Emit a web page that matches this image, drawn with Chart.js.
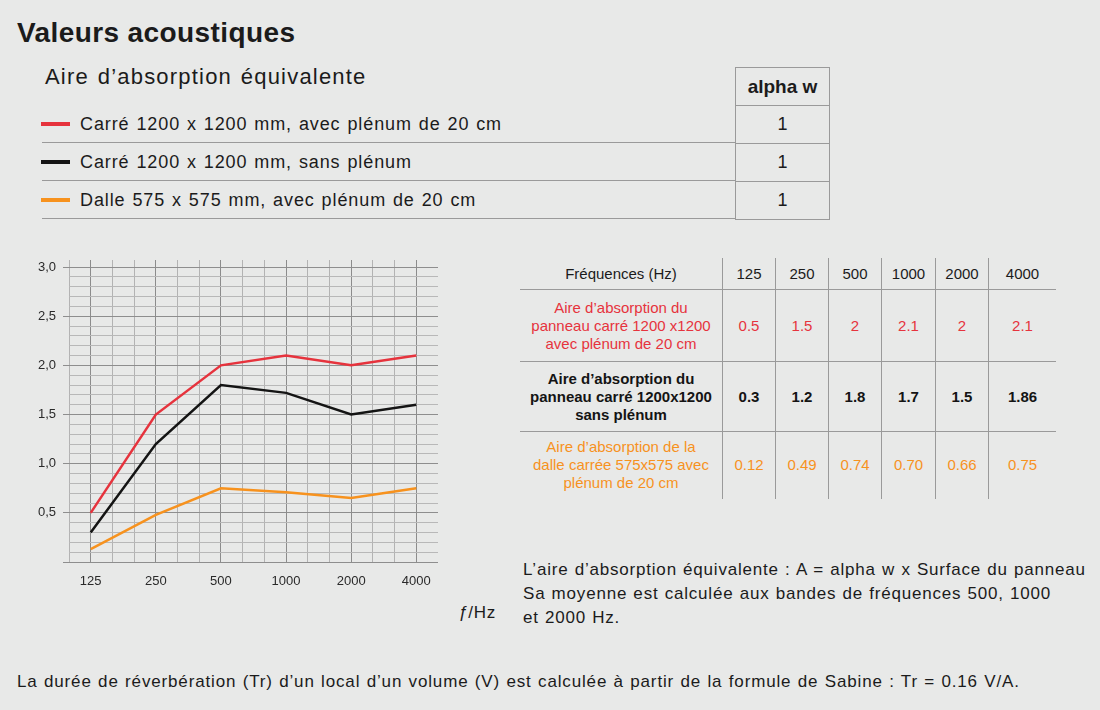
<!DOCTYPE html>
<html>
<head>
<meta charset="utf-8">
<script src="https://cdn.jsdelivr.net/npm/chart.js@4"></script>
<style>
  body { margin: 0; background: #e8e9e8; }
  #page {
    position: relative; width: 1100px; height: 710px; overflow: hidden;
    background: #e8e9e8; color: #1b1b1b;
    font-family: "Liberation Sans", Arial, sans-serif;
  }
  .abs { position: absolute; white-space: nowrap; }
  h1 { position: absolute; left: 17px; top: 19px; margin: 0; font-size: 28px; line-height: 28px; font-weight: bold; letter-spacing: 0.4px; }
  .sub { left: 45px; top: 66px; font-size: 22px; line-height: 22px; letter-spacing: 1.2px; word-spacing: 1.5px; }
  .lrow { position: absolute; left: 42px; width: 693px; height: 38px; line-height: 38px; font-size: 18px; }
  .lrow .sep { position: absolute; left: 0; right: 0; bottom: 0; border-bottom: 1px solid #9a9a9a; }
  .lrow .mk { position: absolute; left: -1px; top: 17px; width: 29px; height: 4px; }
  .lrow .tx { position: absolute; left: 38px; top: 0; letter-spacing: 0.9px; word-spacing: 1px; }
  #alpha { position: absolute; left: 735px; top: 67px; border-collapse: collapse; }
  #alpha td { border: 1px solid #9a9a9a; width: 93px; height: 37px; padding: 0; text-align: center; font-size: 18px; }
  #alpha td.h { font-weight: bold; font-size: 19px; }
  #freqTable { position: absolute; left: 520px; top: 258px; border-collapse: collapse; }
  #freqTable td { padding: 0; text-align: center; font-size: 15px; line-height: 18px;
    border-right: 1px solid #9a9a9a; border-bottom: 1px solid #9a9a9a; }
  #freqTable td:last-child { border-right: none; }
  #freqTable tr:last-child td { border-bottom: none; }
  #chartBox { position: absolute; left: 20px; top: 255px; width: 420px; height: 345px; }
  .note { left: 523px; top: 558px; font-size: 17px; line-height: 24px; letter-spacing: 0.8px; word-spacing: 0.7px; }
  .foot { left: 17px; top: 672px; font-size: 17px; line-height: 20px; letter-spacing: 0.85px; word-spacing: 0.8px; }
  .fhz { left: 458px; top: 603px; font-size: 17px; line-height: 20px; letter-spacing: 0.8px; }
</style>
</head>
<body>
<div id="page">
  <h1>Valeurs acoustiques</h1>
  <div class="abs sub">Aire d’absorption équivalente</div>
  <div id="legendRows"></div>
  <table id="alpha"></table>
  <table id="freqTable"></table>
  <div id="chartBox"><canvas id="absChart"></canvas></div>
  <div class="abs fhz"><i>ƒ</i>/Hz</div>
  <div class="abs note">L’aire d’absorption équivalente : A = alpha w x Surface du panneau<br>Sa moyenne est calculée aux bandes de fréquences 500, 1000<br>et 2000 Hz.</div>
  <div class="abs foot">La durée de réverbération (Tr) d’un local d’un volume (V) est calculée à partir de la formule de Sabine : Tr = 0.16 V/A.</div>
</div>
<script>
// données
const frequences = ['125', '250', '500', '1000', '2000', '4000'];
const seriesNames = [
    'Carré 1200 x 1200 mm, avec plénum de 20 cm',
    'Carré 1200 x 1200 mm, sans plénum',
    'Dalle 575 x 575 mm, avec plénum de 20 cm'
];
const seriesColors = ['#e6333d', '#141414', '#f7921e'];
const alphaW = ['1', '1', '1'];

// valeurs
const carreAvecPlenum = [0.5, 1.5, 2.0, 2.1, 2.0, 2.1];
const carreSansPlenum = [0.3, 1.2, 1.8, 1.72, 1.5, 1.6];
const dalleAvecPlenum = [0.13, 0.48, 0.75, 0.71, 0.65, 0.75];

// valeurs du tableau
const rowTitles = [
    'Aire d’absorption du<br>panneau carré 1200 x1200<br>avec plénum de 20 cm',
    'Aire d’absorption du<br>panneau carré 1200x1200<br>sans plénum',
    'Aire d’absorption de la<br>dalle carrée 575x575 avec<br>plénum de 20 cm'
];
const tableCarreAvec = ['0.5', '1.5', '2', '2.1', '2', '2.1'];
const tableCarreSans = ['0.3', '1.2', '1.8', '1.7', '1.5', '1.86'];
const tableDalle = ['0.12', '0.49', '0.74', '0.70', '0.66', '0.75'];

const yTicks = [0, 0.5, 1.0, 1.5, 2.0, 2.5, 3.0];

// légende
function buildLegend() {
    const box = document.getElementById('legendRows');
    seriesNames.forEach((name, i) => {
        const row = document.createElement('div');
        row.className = 'lrow';
        row.style.top = (105 + i * 38) + 'px';
        row.innerHTML = `<div class="mk" style="background:${seriesColors[i]}"></div>
            <div class="tx">${name}</div><div class="sep"></div>`;
        box.appendChild(row);
    });
    const alpha = document.getElementById('alpha');
    alpha.innerHTML = '<tr><td class="h">alpha w</td></tr>' +
        alphaW.map(v => `<tr><td>${v}</td></tr>`).join('');
}

// tableau des fréquences
function buildTable() {
    const t = document.getElementById('freqTable');
    const widths = [202, 52, 52, 52, 53, 52, 67];
    const heights = [31, 72, 70, 67];
    const rows = [tableCarreAvec, tableCarreSans, tableDalle];
    let html = '<tr>' + ['Fréquences (Hz)'].concat(frequences)
        .map((f, j) => `<td style="width:${widths[j]}px;height:${heights[0]}px">${f}</td>`).join('') + '</tr>';
    rows.forEach((vals, i) => {
        const style = `color:${seriesColors[i]};${i === 1 ? 'font-weight:bold;' : ''}height:${heights[i + 1]}px`;
        html += `<tr style="${style}"><td>${rowTitles[i]}</td>` +
            vals.map(v => `<td>${v}</td>`).join('') + '</tr>';
    });
    t.innerHTML = html;
}

// graphique
function createChart() {
    const ctx = document.getElementById('absChart').getContext('2d');
    const toPoints = arr => arr.map((v, i) => ({ x: i, y: v }));
    const xSteps = [];
    for (let k = -1; k <= 16; k++) xSteps.push(k / 3);
    const ySteps = [];
    for (let k = 0; k <= 30; k++) ySteps.push(k / 10);
    const isMajorX = v => Math.abs(v - Math.round(v)) < 1e-6 && v > -0.1 && v < 5.1;
    const isMajorY = v => yTicks.some(t => Math.abs(t - v) < 1e-6);
    const xGridColor = c => {
        const v = c.tick ? c.tick.value : 0;
        if (v > 5.1) return 'rgba(0,0,0,0)';
        return isMajorX(v) ? '#8c8c8c' : '#b3b3b3';
    };
    const noPad = axis => { axis.paddingLeft = 0; axis.paddingRight = 0; axis.paddingTop = 0; axis.paddingBottom = 0; };

    new Chart(ctx, {
        type: 'line',
        data: {
            datasets: [carreAvecPlenum, carreSansPlenum, dalleAvecPlenum].map((arr, i) => ({
                label: seriesNames[i],
                data: toPoints(arr),
                borderColor: seriesColors[i],
                borderWidth: 2.5,
                pointRadius: 0,
                tension: 0,
                fill: false
            }))
        },
        options: {
            responsive: true,
            maintainAspectRatio: false,
            animation: false,
            layout: { padding: { right: 2 } },
            plugins: { legend: { display: false }, tooltip: { enabled: false } },
            scales: {
                x: {
                    type: 'linear',
                    min: -1 / 3,
                    max: 16 / 3,
                    afterBuildTicks: axis => { axis.ticks = xSteps.map(v => ({ value: v })); },
                    afterFit: axis => { axis.height = 38; noPad(axis); },
                    border: { display: false },
                    grid: { color: xGridColor, lineWidth: 1, drawTicks: false },
                    ticks: {
                        autoSkip: false,
                        maxRotation: 0,
                        padding: 12,
                        color: '#2a2a2a',
                        font: { family: 'Liberation Sans', size: 13 },
                        callback: v => isMajorX(v) ? frequences[Math.round(v)] : ''
                    }
                },
                x2: {
                    type: 'linear',
                    position: 'top',
                    min: -1 / 3,
                    max: 16 / 3,
                    afterBuildTicks: axis => { axis.ticks = xSteps.map(v => ({ value: v })); },
                    afterFit: axis => { axis.height = 12; noPad(axis); },
                    border: { display: false },
                    grid: { drawOnChartArea: false, tickLength: 7, tickColor: xGridColor, color: xGridColor },
                    ticks: { display: false }
                },
                y: {
                    min: 0,
                    max: 3,
                    afterBuildTicks: axis => { axis.ticks = ySteps.map(v => ({ value: v })); },
                    afterFit: axis => { axis.width = 49; noPad(axis); },
                    border: { display: false },
                    grid: {
                        color: c => isMajorY(c.tick.value) ? '#8e8e8e' : '#b8b8b8',
                        tickColor: c => isMajorY(c.tick.value) ? '#8e8e8e' : 'rgba(0,0,0,0)',
                        tickLength: 6,
                        lineWidth: 1
                    },
                    ticks: {
                        autoSkip: false,
                        padding: 7,
                        color: '#2a2a2a',
                        font: { family: 'Liberation Sans', size: 13 },
                        callback: v => (isMajorY(v) && v > 0) ? v.toFixed(1).replace('.', ',') : ''
                    }
                }
            }
        }
    });
}

document.addEventListener('DOMContentLoaded', () => {
    buildLegend();
    buildTable();
    createChart();
});
</script>
</body>
</html>
